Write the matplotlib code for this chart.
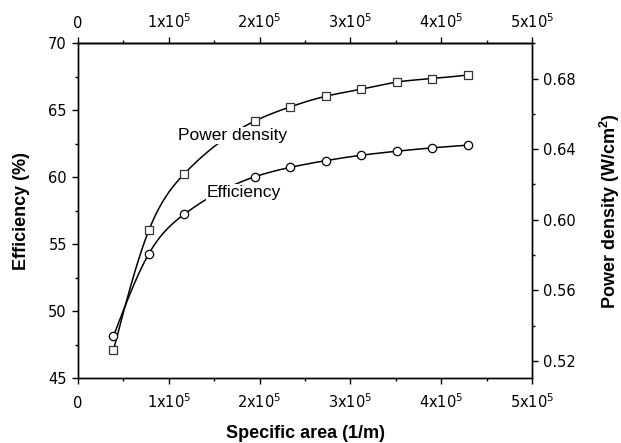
import numpy as np
import matplotlib
matplotlib.use('Agg')
import matplotlib.pyplot as plt
from matplotlib.ticker import MultipleLocator

plt.rcParams['mathtext.default'] = 'regular'

# data (specific area in 1/m)
area = [3.9e4, 7.8e4, 1.17e5, 1.95e5, 2.34e5, 2.73e5, 3.12e5, 3.51e5, 3.9e5, 4.29e5]
efficiency = [48.15, 54.3, 57.25, 60.05, 60.75, 61.25, 61.65, 61.95, 62.2, 62.4]
power_density = [0.526, 0.594, 0.626, 0.656, 0.664, 0.670, 0.674, 0.678, 0.680, 0.682]

xtick_vals = [0, 1e5, 2e5, 3e5, 4e5, 5e5]
xtick_labels = ['0', '1x10$^5$', '2x10$^5$', '3x10$^5$', '4x10$^5$', '5x10$^5$']


def smooth(x, y, n=300):
    # natural cubic spline through the points, only for drawing the line
    x = np.asarray(x, float)
    y = np.asarray(y, float)
    k = len(x)
    h = np.diff(x)
    A = np.zeros((k, k))
    b = np.zeros(k)
    A[0, 0] = 1
    A[-1, -1] = 1
    for i in range(1, k - 1):
        A[i, i - 1] = h[i - 1]
        A[i, i] = 2 * (h[i - 1] + h[i])
        A[i, i + 1] = h[i]
        b[i] = 6 * ((y[i + 1] - y[i]) / h[i] - (y[i] - y[i - 1]) / h[i - 1])
    M = np.linalg.solve(A, b)
    xs = np.linspace(x[0], x[-1], n)
    j = np.clip(np.searchsorted(x, xs) - 1, 0, k - 2)
    t0 = x[j + 1] - xs
    t1 = xs - x[j]
    ys = (M[j] * t0**3 / (6 * h[j]) + M[j + 1] * t1**3 / (6 * h[j])
          + (y[j] / h[j] - M[j] * h[j] / 6) * t0
          + (y[j + 1] / h[j] - M[j + 1] * h[j] / 6) * t1)
    return xs, ys


fig = plt.figure(figsize=(6.21, 4.43), dpi=100)
ax = fig.add_axes([0.1256, 0.1456, 0.7311, 0.7567])
ax2 = ax.twinx()

xs, ys = smooth(area, efficiency)
ax.plot(xs, ys, color='black', lw=1.1, zorder=2)
ax.plot(area, efficiency, 'o', ms=6, mfc='white', mec='black', mew=0.9, zorder=3)

xs, ys = smooth(area, power_density)
ax2.plot(xs, ys, color='black', lw=1.1, zorder=2)
ax2.plot(area, power_density, 's', ms=5.5, mfc='white', mec='#333333', mew=0.9, zorder=3)

ax.set_xlim(0, 5e5)
ax.set_ylim(45, 70)
ax2.set_ylim(0.51, 0.70)

ax.set_xticks(xtick_vals)
ax.set_xticklabels(xtick_labels)
ax.xaxis.set_minor_locator(MultipleLocator(5e4))
ax.yaxis.set_major_locator(MultipleLocator(5))
ax.yaxis.set_minor_locator(MultipleLocator(2.5))
ax2.set_yticks([0.52, 0.56, 0.60, 0.64, 0.68])
ax2.yaxis.set_minor_locator(MultipleLocator(0.02))

for a in (ax, ax2):
    for s in a.spines.values():
        s.set_linewidth(1.0)
ax.tick_params(which='major', length=4, width=1, labelsize=10.5, direction='out')
ax.tick_params(which='minor', length=2.5, width=1, direction='out')
ax.tick_params(axis='x', which='major', pad=17)
ax.tick_params(axis='y', which='major', pad=4)
ax2.tick_params(which='major', length=4, width=1, labelsize=10.5, pad=4)
ax2.tick_params(which='minor', length=2.5, width=1)
for lab in ax.get_xticklabels():
    lab.set_verticalalignment('baseline')

# top axis with the same ticks
top = ax.secondary_xaxis('top')
top.set_xticks(xtick_vals)
top.set_xticklabels(xtick_labels)
top.xaxis.set_minor_locator(MultipleLocator(5e4))
top.tick_params(which='major', length=4, width=1, labelsize=10.5, pad=7, direction='out')
top.tick_params(which='minor', length=2.5, width=1, direction='out')
top.spines['top'].set_linewidth(1.0)
for lab in top.get_xticklabels():
    lab.set_verticalalignment('baseline')

ax.set_xlabel('Specific area (1/m)', family='Liberation Sans', fontweight='bold', fontsize=13, labelpad=10)
ax.set_ylabel('Efficiency (%)', family='Liberation Sans', fontweight='bold', fontsize=13, labelpad=13)
ax2.set_ylabel('Power density (W/cm$^2$)', family='Liberation Sans', fontweight='bold', fontsize=13, labelpad=16)

box = dict(facecolor='white', edgecolor='none', pad=0.8)
ax.text(1.10e5, 62.8, 'Power density', family='Liberation Sans', fontsize=12.5,
        va='baseline', ha='left', bbox=box, zorder=4)
ax.text(1.42e5, 58.5, 'Efficiency', family='Liberation Sans', fontsize=12.5,
        va='baseline', ha='left', bbox=box, zorder=4)
ax2.set_zorder(ax.get_zorder() - 1)
ax.patch.set_visible(False)

fig.savefig('out.png', dpi=100)
